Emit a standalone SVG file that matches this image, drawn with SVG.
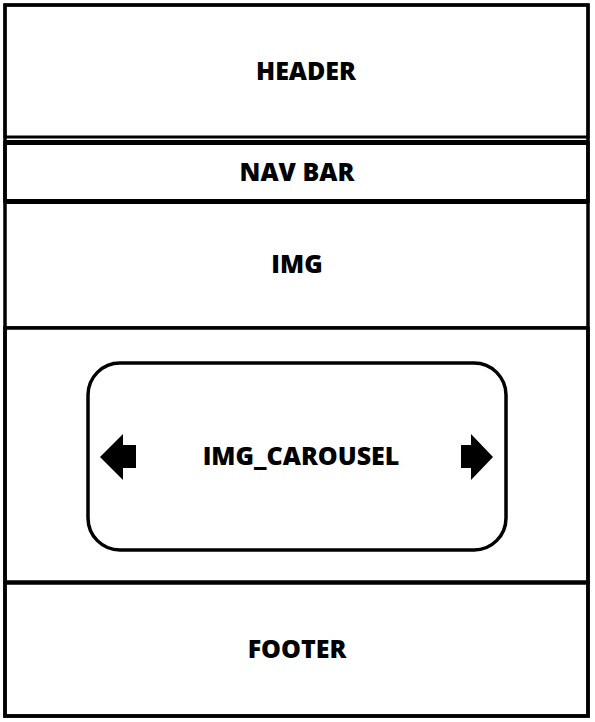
<svg xmlns="http://www.w3.org/2000/svg" width="595" height="722" viewBox="0 0 595 722">
<style>
.box{fill:#fff;stroke:#000;stroke-width:3.5}
.hl{stroke:#000;stroke-width:5}
.lbl{font-family:"Open Sans",sans-serif;font-weight:800;font-size:25px;fill:#000;text-anchor:middle}
.arr{fill:#000}
</style>
<rect width="595" height="722" fill="#fff"/>
<g id="header"><rect class="box" x="5" y="5" width="583" height="132" style="stroke-width:3"/><text class="lbl" x="306" y="80">HEADER</text></g>
<g id="navbar"><rect class="box" x="5" y="142.5" width="583" height="59"/><line class="hl" x1="5" y1="142.5" x2="588" y2="142.5"/><line class="hl" x1="5" y1="201.5" x2="588" y2="201.5"/><text class="lbl" x="297" y="181">NAV BAR</text></g>
<g id="img"><rect class="box" x="5" y="204" width="583" height="124" style="stroke:none"/><line class="hl" x1="5" y1="328" x2="588" y2="328" style="stroke-width:3.5"/><text class="lbl" x="297" y="273">IMG</text></g>
<g id="carousel-section"><rect class="box" x="5" y="328" width="583" height="254"/></g>
<g id="footer"><rect class="box" x="5" y="583" width="583" height="133"/><text class="lbl" x="297" y="658">FOOTER</text></g>
<g id="frame"><rect x="5" y="5" width="583" height="711" fill="none" stroke="#000" stroke-width="3.5"/></g>
<g id="img_carousel"><rect class="box" x="88" y="363" width="418" height="187" rx="32" ry="32"/><text class="lbl" x="301" y="465">IMG_CAROUSEL</text>
<path class="arr" d="M100,457 L123,434 L123,445 L136,445 L136,468 L123,468 L123,480 Z"/>
<path class="arr" d="M493,457 L471,434 L471,445 L461,445 L461,468 L471,468 L471,480 Z"/>
</g>
<g id="connectors"></g>
</svg>
